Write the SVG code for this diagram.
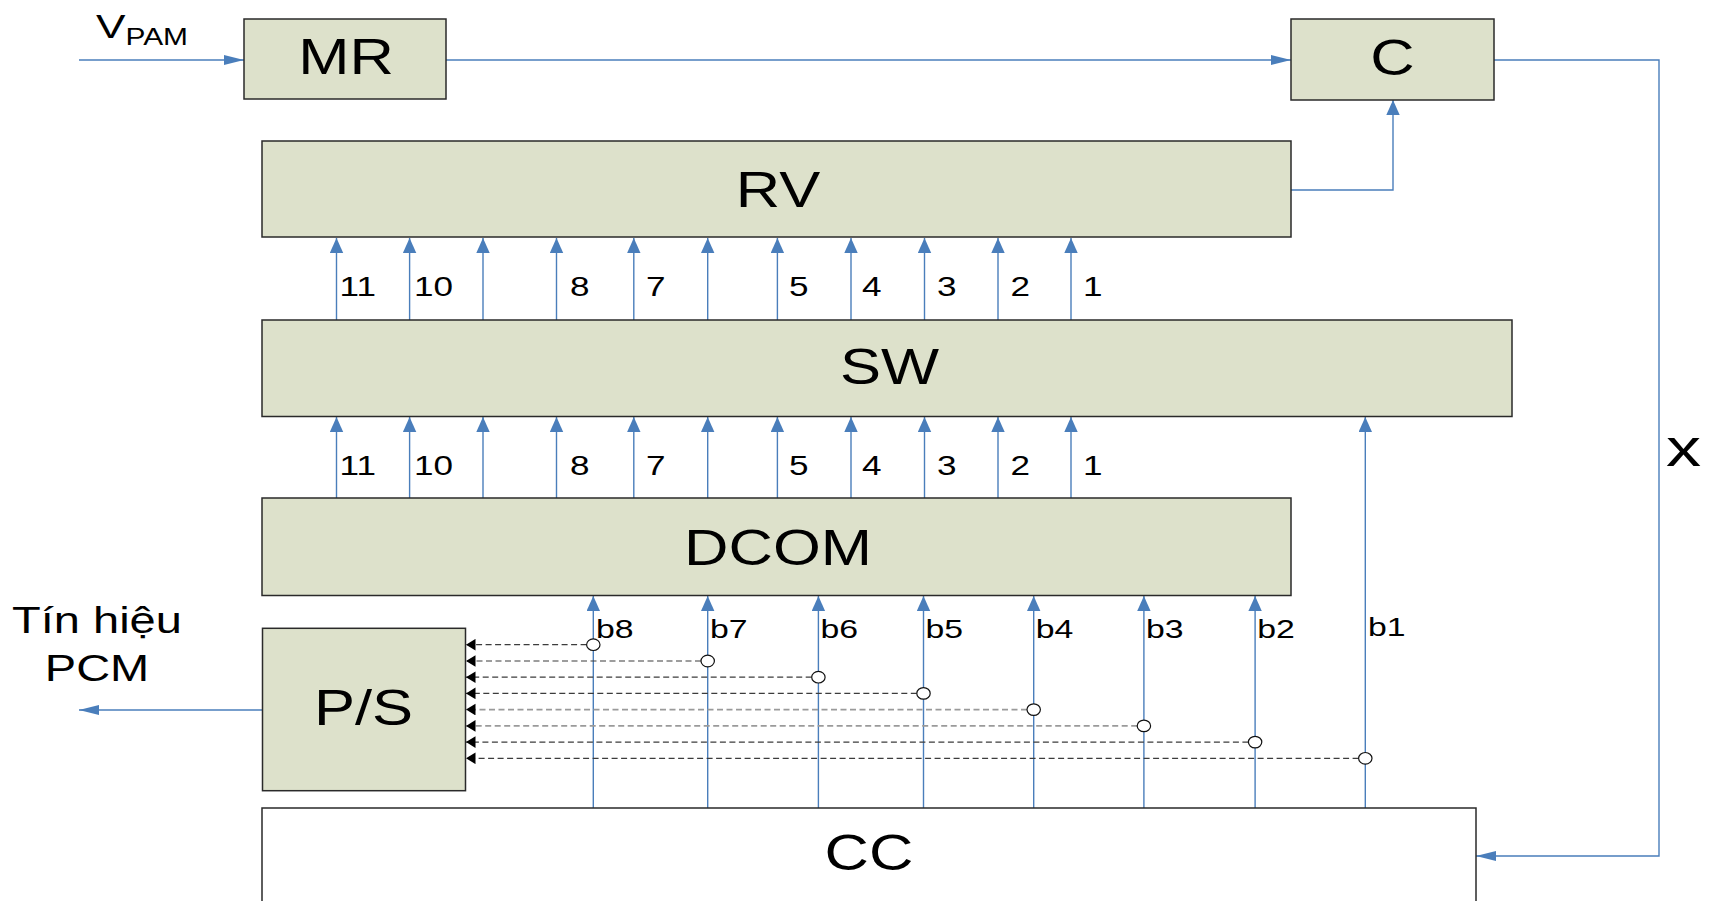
<svg xmlns="http://www.w3.org/2000/svg" width="1713" height="901" viewBox="0 0 1713 901">
<style>
.box{fill:#DDE1CB;stroke:#2a2a2a;stroke-width:1.5}
.wbox{fill:#ffffff;stroke:#2a2a2a;stroke-width:1.5}
.t{font-family:"Liberation Sans",Arial,sans-serif;fill:#000}
.big{font-size:50px;text-anchor:middle}
.num{font-size:27px}
.bl{font-size:26px}
.c{fill:none;stroke:#4A7EBB;stroke-width:1.4}
.d{fill:none;stroke:#3c3c3c;stroke-width:1.2;stroke-dasharray:6 3.5}
.dl{fill:none;stroke:#9a9a9a;stroke-width:1.8;stroke-dasharray:6 3.5}
.o{fill:#fff;stroke:#111;stroke-width:1.2}
</style>
<defs>
<marker id="aV" markerUnits="userSpaceOnUse" markerWidth="16" markerHeight="14" refX="15" refY="6.7" orient="auto"><path d="M0,0 L15,6.7 L0,13.4 z" fill="#4A7EBB"/></marker>
<marker id="aH" markerUnits="userSpaceOnUse" markerWidth="21" markerHeight="11" refX="20" refY="5" orient="auto"><path d="M0,0 L20,5 L0,10 z" fill="#4A7EBB"/></marker>
<marker id="aK" markerUnits="userSpaceOnUse" markerWidth="10" markerHeight="12" refX="9.5" refY="5.8" orient="auto"><path d="M0,0 L9.5,5.8 L0,11.6 z" fill="#000"/></marker>
</defs>

<g id="connectors">
<line class="c" x1="79" y1="60" x2="244" y2="60" marker-end="url(#aH)"/>
<line class="c" x1="446" y1="60" x2="1291" y2="60" marker-end="url(#aH)"/>
<path class="c" d="M1291,190 H1393 V100" marker-end="url(#aV)"/>
<path class="c" d="M1494,60 H1659 V856 H1476" marker-end="url(#aH)"/>
<line class="c" x1="262" y1="710" x2="79" y2="710" marker-end="url(#aH)"/>
<g id="sw-rv">
<line class="c" x1="336.5" y1="320" x2="336.5" y2="238" marker-end="url(#aV)"/>
<line class="c" x1="409.6" y1="320" x2="409.6" y2="238" marker-end="url(#aV)"/>
<line class="c" x1="483" y1="320" x2="483" y2="238" marker-end="url(#aV)"/>
<line class="c" x1="556.5" y1="320" x2="556.5" y2="238" marker-end="url(#aV)"/>
<line class="c" x1="633.8" y1="320" x2="633.8" y2="238" marker-end="url(#aV)"/>
<line class="c" x1="707.7" y1="320" x2="707.7" y2="238" marker-end="url(#aV)"/>
<line class="c" x1="777.4" y1="320" x2="777.4" y2="238" marker-end="url(#aV)"/>
<line class="c" x1="851" y1="320" x2="851" y2="238" marker-end="url(#aV)"/>
<line class="c" x1="924.5" y1="320" x2="924.5" y2="238" marker-end="url(#aV)"/>
<line class="c" x1="998" y1="320" x2="998" y2="238" marker-end="url(#aV)"/>
<line class="c" x1="1071" y1="320" x2="1071" y2="238" marker-end="url(#aV)"/>
</g>
<g id="dcom-sw">
<line class="c" x1="336.5" y1="498" x2="336.5" y2="417" marker-end="url(#aV)"/>
<line class="c" x1="409.6" y1="498" x2="409.6" y2="417" marker-end="url(#aV)"/>
<line class="c" x1="483" y1="498" x2="483" y2="417" marker-end="url(#aV)"/>
<line class="c" x1="556.5" y1="498" x2="556.5" y2="417" marker-end="url(#aV)"/>
<line class="c" x1="633.8" y1="498" x2="633.8" y2="417" marker-end="url(#aV)"/>
<line class="c" x1="707.7" y1="498" x2="707.7" y2="417" marker-end="url(#aV)"/>
<line class="c" x1="777.4" y1="498" x2="777.4" y2="417" marker-end="url(#aV)"/>
<line class="c" x1="851" y1="498" x2="851" y2="417" marker-end="url(#aV)"/>
<line class="c" x1="924.5" y1="498" x2="924.5" y2="417" marker-end="url(#aV)"/>
<line class="c" x1="998" y1="498" x2="998" y2="417" marker-end="url(#aV)"/>
<line class="c" x1="1071" y1="498" x2="1071" y2="417" marker-end="url(#aV)"/>
</g>
<g id="cc-bits">
<line class="c" x1="593.3" y1="808" x2="593.3" y2="596" marker-end="url(#aV)"/>
<line class="c" x1="707.7" y1="808" x2="707.7" y2="596" marker-end="url(#aV)"/>
<line class="c" x1="818.4" y1="808" x2="818.4" y2="596" marker-end="url(#aV)"/>
<line class="c" x1="923.5" y1="808" x2="923.5" y2="596" marker-end="url(#aV)"/>
<line class="c" x1="1033.7" y1="808" x2="1033.7" y2="596" marker-end="url(#aV)"/>
<line class="c" x1="1143.9" y1="808" x2="1143.9" y2="596" marker-end="url(#aV)"/>
<line class="c" x1="1255.1" y1="808" x2="1255.1" y2="596" marker-end="url(#aV)"/>
<line class="c" x1="1365.3" y1="808" x2="1365.3" y2="417" marker-end="url(#aV)"/>
</g>
<g id="taps">
<line class="d" x1="586.6" y1="644.7" x2="466" y2="644.7" marker-end="url(#aK)"/>
<line class="d" x1="701" y1="661" x2="466" y2="661" marker-end="url(#aK)"/>
<line class="d" x1="811.7" y1="677.2" x2="466" y2="677.2" marker-end="url(#aK)"/>
<line class="d" x1="916.8" y1="693.4" x2="466" y2="693.4" marker-end="url(#aK)"/>
<line class="dl" x1="1027" y1="709.6" x2="466" y2="709.6" marker-end="url(#aK)"/>
<line class="dl" x1="1137.2" y1="725.9" x2="466" y2="725.9" marker-end="url(#aK)"/>
<line class="d" x1="1248.4" y1="742.1" x2="466" y2="742.1" marker-end="url(#aK)"/>
<line class="d" x1="1358.6" y1="758.3" x2="466" y2="758.3" marker-end="url(#aK)"/>
<ellipse class="o" cx="593.3" cy="644.7" rx="6.7" ry="5.8"/>
<ellipse class="o" cx="707.7" cy="661" rx="6.7" ry="5.8"/>
<ellipse class="o" cx="818.4" cy="677.2" rx="6.7" ry="5.8"/>
<ellipse class="o" cx="923.5" cy="693.4" rx="6.7" ry="5.8"/>
<ellipse class="o" cx="1033.7" cy="709.6" rx="6.7" ry="5.8"/>
<ellipse class="o" cx="1143.9" cy="725.9" rx="6.7" ry="5.8"/>
<ellipse class="o" cx="1255.1" cy="742.1" rx="6.7" ry="5.8"/>
<ellipse class="o" cx="1365.3" cy="758.3" rx="6.7" ry="5.8"/>
</g>
</g>

<g id="labels">
<text class="t" transform="translate(96,38.3) scale(1.3,1)" style="font-size:34px">V<tspan style="font-size:23px" dy="6.7">PAM</tspan></text>
<text class="t" transform="translate(97,633.3) scale(1.27,1)" style="font-size:37px;text-anchor:middle">Tín hiệu</text>
<text class="t" transform="translate(97,681) scale(1.27,1)" style="font-size:37px;text-anchor:middle">PCM</text>
<text class="t" transform="translate(1683.5,466) scale(1.3,1)" style="font-size:54px;text-anchor:middle">x</text>
<g id="row1">
<text class="t num" transform="translate(339.5,296) scale(1.3,1)">11</text>
<text class="t num" transform="translate(414,296) scale(1.3,1)">10</text>
<text class="t num" transform="translate(570,296) scale(1.3,1)">8</text>
<text class="t num" transform="translate(646,296) scale(1.3,1)">7</text>
<text class="t num" transform="translate(789,296) scale(1.3,1)">5</text>
<text class="t num" transform="translate(862,296) scale(1.3,1)">4</text>
<text class="t num" transform="translate(937,296) scale(1.3,1)">3</text>
<text class="t num" transform="translate(1010.5,296) scale(1.3,1)">2</text>
<text class="t num" transform="translate(1083,296) scale(1.3,1)">1</text>
</g>
<g id="row2">
<text class="t num" transform="translate(339.5,475) scale(1.3,1)">11</text>
<text class="t num" transform="translate(414,475) scale(1.3,1)">10</text>
<text class="t num" transform="translate(570,475) scale(1.3,1)">8</text>
<text class="t num" transform="translate(646,475) scale(1.3,1)">7</text>
<text class="t num" transform="translate(789,475) scale(1.3,1)">5</text>
<text class="t num" transform="translate(862,475) scale(1.3,1)">4</text>
<text class="t num" transform="translate(937,475) scale(1.3,1)">3</text>
<text class="t num" transform="translate(1010.5,475) scale(1.3,1)">2</text>
<text class="t num" transform="translate(1083,475) scale(1.3,1)">1</text>
</g>
<g id="bits">
<text class="t bl" transform="translate(596,638.3) scale(1.3,1)">b8</text>
<text class="t bl" transform="translate(710,638.3) scale(1.3,1)">b7</text>
<text class="t bl" transform="translate(820.5,638.3) scale(1.3,1)">b6</text>
<text class="t bl" transform="translate(925.5,638.3) scale(1.3,1)">b5</text>
<text class="t bl" transform="translate(1035.7,638.3) scale(1.3,1)">b4</text>
<text class="t bl" transform="translate(1146,638.3) scale(1.3,1)">b3</text>
<text class="t bl" transform="translate(1257.2,638.3) scale(1.3,1)">b2</text>
<text class="t bl" transform="translate(1368,636) scale(1.3,1)">b1</text>
</g>
</g>

<g id="MR"><rect class="box" x="244" y="19" width="202" height="80"/><text class="t big" transform="translate(346,74.3) scale(1.23,1)">MR</text></g>
<g id="C"><rect class="box" x="1291" y="19" width="203" height="81"/><text class="t big" transform="translate(1392.5,74.5) scale(1.23,1)">C</text></g>
<g id="RV"><rect class="box" x="262" y="141" width="1029" height="96"/><text class="t big" transform="translate(778,207) scale(1.23,1)">RV</text></g>
<g id="SW"><rect class="box" x="262" y="320" width="1250" height="96.5"/><text class="t big" transform="translate(889.5,384) scale(1.23,1)">SW</text></g>
<g id="DCOM"><rect class="box" x="262" y="498" width="1029" height="97.5"/><text class="t big" transform="translate(778,564.5) scale(1.23,1)">DCOM</text></g>
<g id="PS"><rect class="box" x="262.5" y="628.3" width="203" height="162.4"/><text class="t big" transform="translate(363.5,724.5) scale(1.23,1)">P/S</text></g>
<g id="CC"><rect class="wbox" x="262" y="808" width="1214" height="120"/><text class="t big" transform="translate(869,870) scale(1.23,1)">CC</text></g>
</svg>
